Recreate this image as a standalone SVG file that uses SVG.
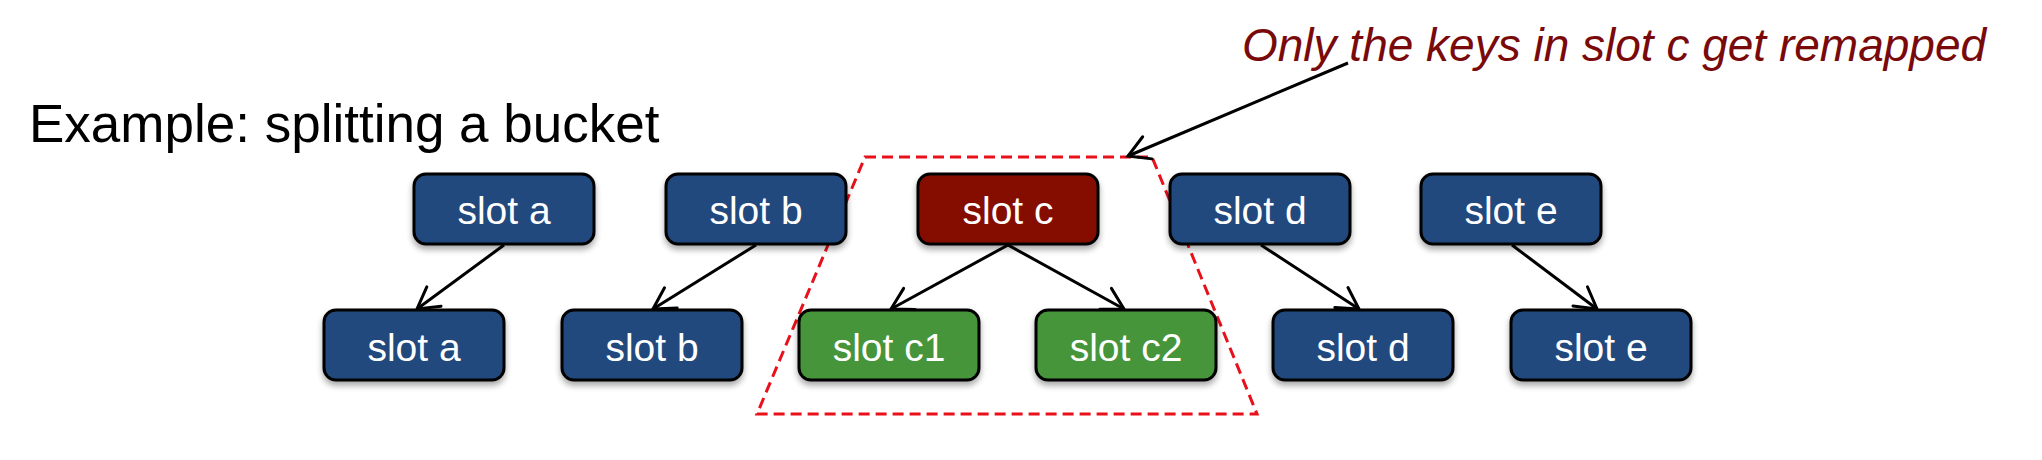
<svg xmlns="http://www.w3.org/2000/svg" width="2042" height="460" viewBox="0 0 2042 460">
<defs>
<style>
.node rect{stroke:#000;stroke-width:3;filter:url(#sh)}
.blue{fill:#224A7E}
.red{fill:#851102}
.green{fill:#47953B}
.node text{font-family:"Liberation Sans",Arial,sans-serif;font-size:39px;fill:#fff;text-anchor:middle}
.conn line{stroke:#000;stroke-width:3;marker-end:url(#ah)}
</style>
<filter id="sh" x="-10%" y="-10%" width="120%" height="140%">
<feGaussianBlur in="SourceAlpha" stdDeviation="3"/>
<feOffset dy="4"/>
<feComponentTransfer><feFuncA type="linear" slope="0.35"/></feComponentTransfer>
<feMerge><feMergeNode/><feMergeNode in="SourceGraphic"/></feMerge>
</filter>
<marker id="ah" viewBox="0 0 26 28" refX="23" refY="14" markerWidth="26" markerHeight="28" markerUnits="userSpaceOnUse" orient="auto">
<path d="M2,2 L23,14 L2,26" fill="none" stroke="#000" stroke-width="3" stroke-linecap="round"/>
</marker>
</defs>
<rect width="2042" height="460" fill="#fff"/>
<text id="title" x="29" y="142" font-family="Liberation Sans,Arial,sans-serif" font-size="53" fill="#000">Example: splitting a bucket</text>
<text id="note" x="1242" y="61" font-family="Liberation Sans,Arial,sans-serif" font-size="46" font-style="italic" fill="#7A0A0A">Only the keys in slot c get remapped</text>
<g id="region">
<path d="M865,157 L1152,157 L1257,414 L757,414 Z" fill="none" stroke="#E8101A" stroke-width="3" stroke-dasharray="11,6"/>
</g>
<g id="connectors" class="conn">
<line x1="504" y1="245" x2="417" y2="309"/>
<line x1="756" y1="245" x2="653" y2="309"/>
<line x1="1008" y1="245" x2="891" y2="309"/>
<line x1="1008" y1="245" x2="1124" y2="309"/>
<line x1="1261" y1="245" x2="1359" y2="309"/>
<line x1="1512" y1="245" x2="1597" y2="309"/>
<line x1="1348" y1="63" x2="1128" y2="156"/>
</g>
<g id="n_a1" class="node"><rect class="blue" x="414" y="174" width="180" height="70" rx="12"/><text x="504" y="224">slot a</text></g>
<g id="n_b1" class="node"><rect class="blue" x="666" y="174" width="180" height="70" rx="12"/><text x="756" y="224">slot b</text></g>
<g id="n_c" class="node"><rect class="red" x="918" y="174" width="180" height="70" rx="12"/><text x="1008" y="224">slot c</text></g>
<g id="n_d1" class="node"><rect class="blue" x="1170" y="174" width="180" height="70" rx="12"/><text x="1260" y="224">slot d</text></g>
<g id="n_e1" class="node"><rect class="blue" x="1421" y="174" width="180" height="70" rx="12"/><text x="1511" y="224">slot e</text></g>
<g id="n_a2" class="node"><rect class="blue" x="324" y="310" width="180" height="70" rx="12"/><text x="414" y="361">slot a</text></g>
<g id="n_b2" class="node"><rect class="blue" x="562" y="310" width="180" height="70" rx="12"/><text x="652" y="361">slot b</text></g>
<g id="n_c1" class="node"><rect class="green" x="799" y="310" width="180" height="70" rx="12"/><text x="889" y="361">slot c1</text></g>
<g id="n_c2" class="node"><rect class="green" x="1036" y="310" width="180" height="70" rx="12"/><text x="1126" y="361">slot c2</text></g>
<g id="n_d2" class="node"><rect class="blue" x="1273" y="310" width="180" height="70" rx="12"/><text x="1363" y="361">slot d</text></g>
<g id="n_e2" class="node"><rect class="blue" x="1511" y="310" width="180" height="70" rx="12"/><text x="1601" y="361">slot e</text></g>
</svg>
